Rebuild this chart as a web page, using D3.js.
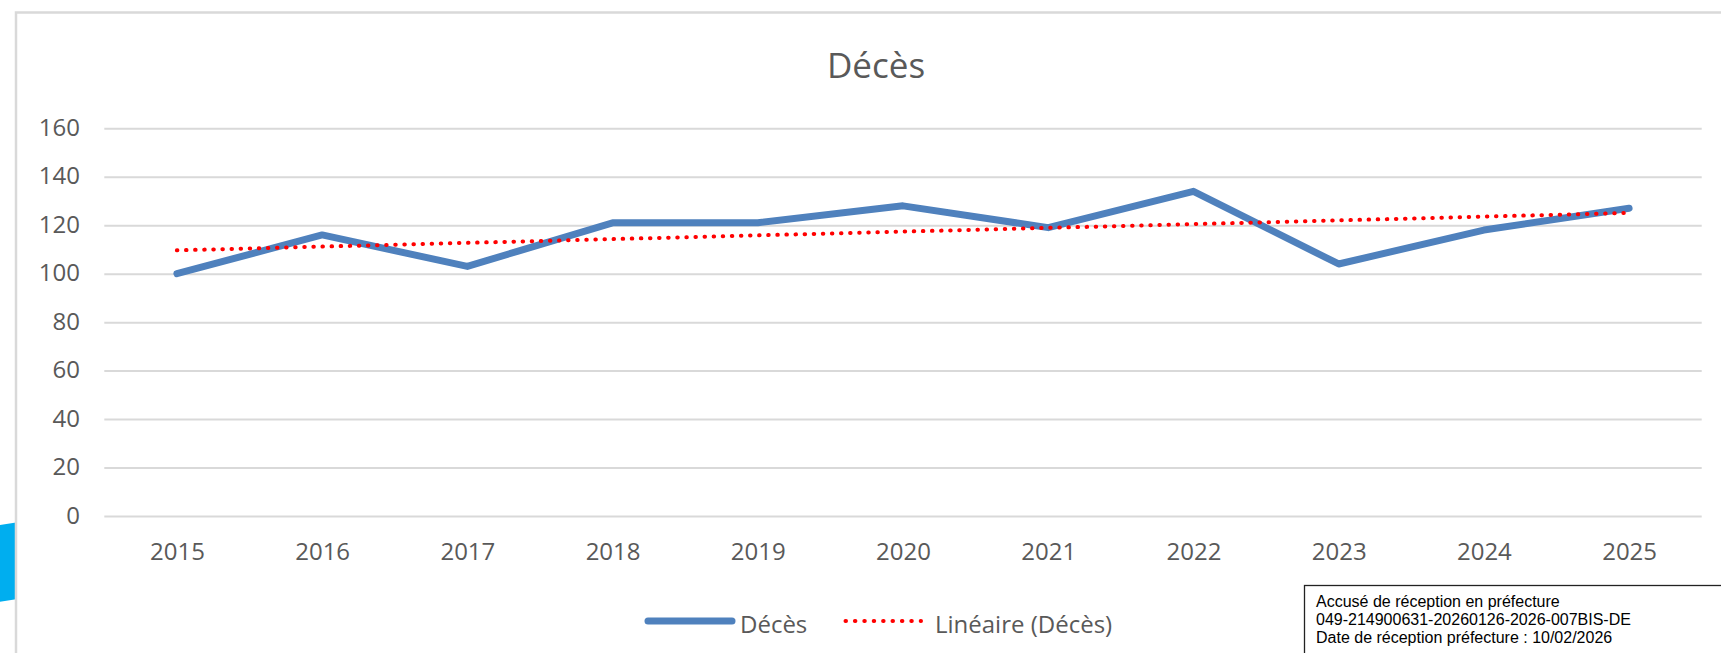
<!DOCTYPE html>
<html>
<head>
<meta charset="utf-8">
<script src="https://cdn.jsdelivr.net/npm/d3@7/dist/d3.min.js"></script>
<style>
  html, body { margin: 0; padding: 0; background: #ffffff; overflow: hidden; }
  svg { display: block; }
</style>
</head>
<body>
<svg id="chart" width="1721" height="653"></svg>
<script>
// ---- Data ----
const years = ["2015","2016","2017","2018","2019","2020","2021","2022","2023","2024","2025"];
const deces = [100, 116, 103, 121, 121, 128, 119, 134, 104, 118, 127];
const yTicks = [0, 20, 40, 60, 80, 100, 120, 140, 160];
const titleText = "Décès";
const legendLabels = ["Décès", "Linéaire (Décès)"];
const stampLines = [
  "Accusé de réception en préfecture",
  "049-214900631-20260126-2026-007BIS-DE",
  "Date de réception préfecture : 10/02/2026"
];

// ---- Layout ----
const W = 1721, H = 653;
const plot = { left: 104.3, right: 1701.7, top: 128.3, bottom: 516 };
const textColor = "#595959";
const gridColor = "#d9d9d9";
const blue = "#4f81bd";
const red = "#ff0000";
const font = "'Open Sans', sans-serif";

const svg = d3.select("#chart");

// Decorative cyan shape at left edge (part of page background)
svg.append("path")
  .attr("d", "M0,525 L16,522.5 L16,599.2 L0,601.8 Z")
  .attr("fill", "#00aeef");

// Chart frame
svg.append("rect")
  .attr("x", 16).attr("y", 12.5)
  .attr("width", W + 20).attr("height", H + 20)
  .attr("fill", "none")
  .attr("stroke", gridColor)
  .attr("stroke-width", 2.5);

// Scales
const x = d3.scalePoint().domain(years).range([plot.left, plot.right]).padding(0.5);
const y = d3.scaleLinear().domain([0, 160]).range([plot.bottom, plot.top]);

// Gridlines + y labels
const yAxis = d3.axisLeft(y).tickValues(yTicks)
  .tickSize(-(plot.right - plot.left)).tickPadding(0).tickFormat(d3.format("d"));
const gy = svg.append("g").attr("transform", `translate(${plot.left},0)`).call(yAxis);
gy.select(".domain").remove();
gy.selectAll(".tick line").attr("stroke", gridColor).attr("stroke-width", 2);
gy.selectAll(".tick text")
  .attr("x", 80 - plot.left)
  .attr("dy", "0.3em")
  .attr("fill", textColor)
  .style("font-family", font)
  .style("font-size", "24px")
  .attr("text-anchor", "end");

// x labels
const xAxis = d3.axisBottom(x).tickSize(0).tickPadding(0);
const gx = svg.append("g").attr("transform", `translate(0,${plot.bottom})`).call(xAxis);
gx.select(".domain").remove();
gx.selectAll(".tick text")
  .attr("y", 44)
  .attr("dy", 0)
  .attr("fill", textColor)
  .style("font-family", font)
  .style("font-size", "24px")
  .attr("text-anchor", "middle");

// Title
svg.append("text")
  .attr("x", 876).attr("y", 78)
  .attr("text-anchor", "middle")
  .attr("fill", textColor)
  .style("font-family", font)
  .style("font-size", "35px")
  .text(titleText);

// Linear trendline (least squares over the series, like Excel)
const n = deces.length;
const xs = d3.range(n);
const mx = d3.mean(xs), my = d3.mean(deces);
const slope = d3.sum(xs, i => (i - mx) * (deces[i] - my)) / d3.sum(xs, i => (i - mx) ** 2);
const intercept = my - slope * mx;
const trend = years.map((yr, i) => ({ yr, v: intercept + slope * i }));

// Series line
const line = d3.line().x(d => x(d.yr)).y(d => y(d.v));
svg.append("path")
  .datum(years.map((yr, i) => ({ yr, v: deces[i] })))
  .attr("d", line)
  .attr("fill", "none")
  .attr("stroke", blue)
  .attr("stroke-width", 7)
  .attr("stroke-linejoin", "round")
  .attr("stroke-linecap", "round");

svg.append("path")
  .datum(trend)
  .attr("d", line)
  .attr("fill", "none")
  .attr("stroke", red)
  .attr("stroke-width", 4)
  .attr("stroke-dasharray", "0.5 8.6")
  .attr("stroke-linecap", "round");

// Legend
const lg = svg.append("g");
lg.append("line")
  .attr("x1", 648).attr("x2", 732).attr("y1", 621).attr("y2", 621)
  .attr("stroke", blue).attr("stroke-width", 7).attr("stroke-linecap", "round");
lg.append("text")
  .attr("x", 740).attr("y", 632.5)
  .attr("fill", textColor).style("font-family", font).style("font-size", "24px")
  .text(legendLabels[0]);
lg.append("line")
  .attr("x1", 845.5).attr("x2", 921).attr("y1", 621).attr("y2", 621)
  .attr("stroke", red).attr("stroke-width", 4)
  .attr("stroke-dasharray", "0.5 8.9").attr("stroke-linecap", "round");
lg.append("text")
  .attr("x", 935).attr("y", 632.5)
  .attr("fill", textColor).style("font-family", font).style("font-size", "24px")
  .text(legendLabels[1]);

// Stamp box
const sg = svg.append("g");
sg.append("rect")
  .attr("x", 1304.5).attr("y", 585.5)
  .attr("width", 500).attr("height", 100)
  .attr("fill", "#ffffff")
  .attr("stroke", "#222222")
  .attr("stroke-width", 1.3);
sg.selectAll("text.stamp")
  .data(stampLines)
  .join("text")
  .attr("class", "stamp")
  .attr("x", 1316)
  .attr("y", (d, i) => 607 + i * 18)
  .attr("fill", "#000000")
  .style("font-family", "'Liberation Sans', Arial, sans-serif")
  .style("font-size", "16px")
  .text(d => d);
</script>
</body>
</html>
